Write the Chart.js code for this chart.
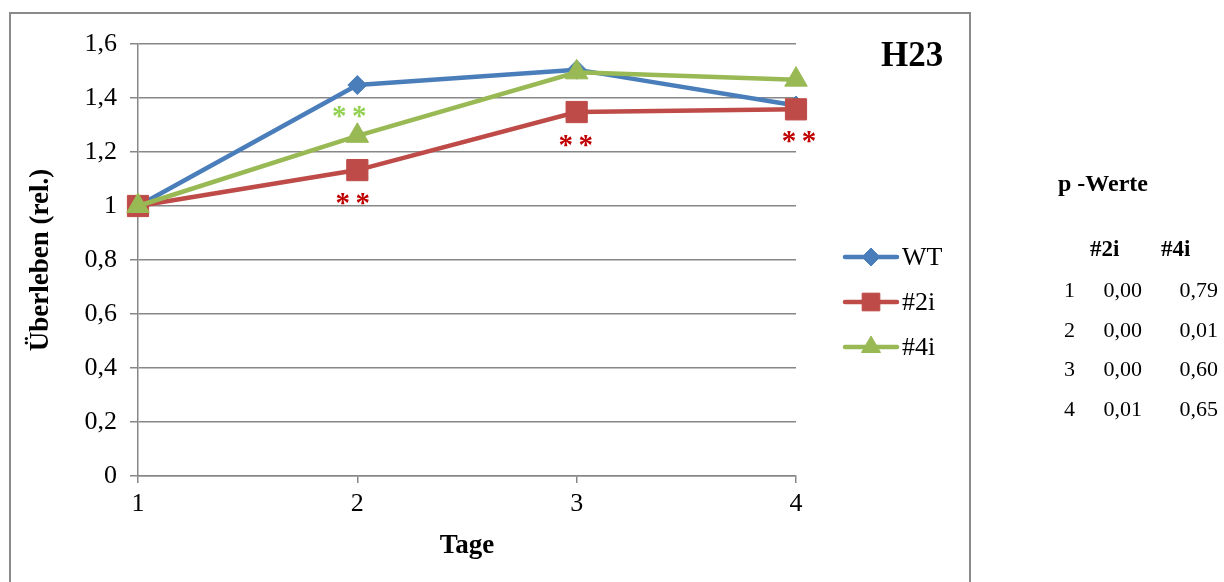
<!DOCTYPE html>
<html><head><meta charset="utf-8">
<script src="https://cdn.jsdelivr.net/npm/chart.js@4/dist/chart.umd.min.js"></script>
<style>
html,body{margin:0;padding:0;background:#fff;width:1224px;height:582px;overflow:hidden;font-family:"Liberation Serif","Times New Roman",serif;color:#000;}
#frame{position:absolute;left:9px;top:12px;width:958px;height:620px;border:2px solid #8a8a8a;border-bottom:none;box-sizing:content-box;}
#c{position:absolute;left:0;top:0;}
.txt{position:absolute;white-space:nowrap;line-height:1;}
</style></head>
<body>
<div id="frame"></div>
<canvas id="c" width="1224" height="582"></canvas>
<div id="h23" class="txt" style="left:881px;top:37px;font-size:35px;font-weight:bold;">H23</div>
<div id="ptable"></div>
<script>
// ---- data ----
const days = ['1', '2', '3', '4'];
const seriesNames = ['WT', '#2i', '#4i'];
const wtValues  = [1.000, 1.448, 1.505, 1.372];
const ko2iValues = [1.000, 1.133, 1.348, 1.358];
const ko4iValues = [1.000, 1.260, 1.495, 1.468];
const yTickLabels = ['0', '0,2', '0,4', '0,6', '0,8', '1', '1,2', '1,4', '1,6'];
// significance marks (**): series index, day index
const sigSeries = [2, 1, 1, 1];
const sigDay    = [1, 1, 2, 3];
// p-values table
const pTitle = 'p -Werte';
const pHeaders = ['#2i', '#4i'];
const pDays = ['1', '2', '3', '4'];
const p2i = ['0,00', '0,00', '0,00', '0,01'];
const p4i = ['0,79', '0,01', '0,60', '0,65'];

// ---- styles ----
const colors = ['#4A7EBB', '#BE4B48', '#98B954'];
const pointStyles = ['rectRot', 'rect', 'triangle'];
const pointRadii = [9.5, 15, 13];
const sigColors = ['#C00000', '#C00000', '#92D050'];
const sigDy = [-24, 29, 29, 28];
const sigDx = [-8, -4.5, -1, 3];
const GRID = '#878787';
const SERIF = '"Liberation Serif", "Times New Roman", serif';

const allSeries = [wtValues, ko2iValues, ko4iValues];

// ---- p-value table (HTML text) ----
(function () {
  const t = document.getElementById('ptable');
  function add(text, x, cy, size, bold, alignRight) {
    const d = document.createElement('div');
    d.className = 'txt';
    d.textContent = text;
    d.style.fontSize = size + 'px';
    d.style.top = (cy - size / 2) + 'px';
    if (bold) d.style.fontWeight = 'bold';
    if (alignRight) { d.style.right = (1224 - x) + 'px'; } else { d.style.left = x + 'px'; }
    t.appendChild(d);
  }
  add(pTitle, 1058, 183, 24, true, false);
  add(pHeaders[0], 1090, 248, 23, true, false);
  add(pHeaders[1], 1161, 248, 23, true, false);
  for (let i = 0; i < pDays.length; i++) {
    const cy = 290 + i * 39.5;
    add(pDays[i], 1064, cy, 22, false, false);
    add(p2i[i], 1142, cy, 22, false, true);
    add(p4i[i], 1218, cy, 22, false, true);
  }
})();

function drawMarker(ctx, style, x, y, r, color) {
  ctx.save();
  ctx.fillStyle = color;
  ctx.strokeStyle = color;
  ctx.lineWidth = 1;
  ctx.beginPath();
  if (style === 'rectRot') {
    ctx.moveTo(x, y - r); ctx.lineTo(x + r, y); ctx.lineTo(x, y + r); ctx.lineTo(x - r, y);
  } else if (style === 'rect') {
    const s = Math.SQRT1_2 * r;
    ctx.rect(x - s, y - s, 2 * s, 2 * s);
  } else {
    ctx.moveTo(x, y - r);
    ctx.lineTo(x + r * Math.sin(2 * Math.PI / 3), y + r / 2);
    ctx.lineTo(x - r * Math.sin(2 * Math.PI / 3), y + r / 2);
  }
  ctx.closePath();
  ctx.fill();
  ctx.stroke();
  ctx.restore();
}

const extrasPlugin = {
  id: 'extras',
  afterDatasetsDraw(chart) {
    const ctx = chart.ctx;
    const xs = chart.scales.x, ys = chart.scales.y;
    // significance asterisks
    ctx.save();
    ctx.font = 'bold 29px ' + SERIF;
    ctx.textAlign = 'center';
    ctx.textBaseline = 'alphabetic';
    const m = ctx.measureText('*');
    const mid = (m.actualBoundingBoxAscent - m.actualBoundingBoxDescent) / 2;
    for (let i = 0; i < sigSeries.length; i++) {
      const s = sigSeries[i], d = sigDay[i];
      const px = xs.getPixelForValue(d) + sigDx[i];
      const py = ys.getPixelForValue(allSeries[s][d]) + sigDy[i];
      ctx.fillStyle = sigColors[s];
      ctx.fillText('*', px - 10, py + mid);
      ctx.fillText('*', px + 10, py + mid);
    }
    ctx.restore();
  },
  afterDraw(chart) {
    const ctx = chart.ctx;
    // legend
    const legendRadii = [9, 12.5, 11];
    for (let i = 0; i < seriesNames.length; i++) {
      const y = 257 + i * 45;
      ctx.save();
      ctx.strokeStyle = colors[i];
      ctx.lineWidth = 4.5;
      ctx.lineCap = 'round';
      ctx.beginPath();
      ctx.moveTo(845, y); ctx.lineTo(897, y);
      ctx.stroke();
      ctx.restore();
      drawMarker(ctx, pointStyles[i], 871, y, legendRadii[i], colors[i]);
      ctx.save();
      ctx.fillStyle = '#000';
      ctx.font = '26px ' + SERIF;
      ctx.textAlign = 'left';
      ctx.textBaseline = 'middle';
      ctx.fillText(seriesNames[i], 902, y + 1);
      ctx.restore();
    }
  }
};

Chart.defaults.color = '#000';
Chart.defaults.font.family = SERIF;

new Chart(document.getElementById('c'), {
  type: 'line',
  data: {
    labels: days,
    datasets: allSeries.map((vals, i) => ({
      label: seriesNames[i],
      data: vals,
      borderColor: colors[i],
      backgroundColor: colors[i],
      borderWidth: 4.5,
      pointStyle: pointStyles[i],
      pointRadius: pointRadii[i],
      pointHoverRadius: pointRadii[i],
      pointBorderWidth: 1,
      pointBackgroundColor: colors[i],
      pointBorderColor: colors[i],
      tension: 0,
      fill: false,
      order: 3 - i
    }))
  },
  options: {
    responsive: false,
    animation: false,
    devicePixelRatio: 1,
    layout: { padding: { left: 0, top: 44, right: 428, bottom: 0 } },
    plugins: { legend: { display: false }, tooltip: { enabled: false } },
    scales: {
      x: {
        type: 'category',
        offset: false,
        grid: { drawOnChartArea: false, drawTicks: true, tickLength: 7, color: GRID, lineWidth: 1.5 },
        border: { display: true, color: GRID, width: 1.5 },
        ticks: { font: { size: 26, family: SERIF }, padding: 6, maxRotation: 0 },
        title: { display: true, text: 'Tage', font: { size: 27, weight: 'bold', family: SERIF }, padding: { top: 0, bottom: 20 } },
        afterFit(scale) { scale.height = 106; }
      },
      y: {
        min: 0, max: 1.6,
        ticks: {
          stepSize: 0.2,
          font: { size: 26, family: SERIF },
          padding: 13,
          callback: (v, idx) => yTickLabels[idx]
        },
        grid: { color: GRID, lineWidth: 1.5, tickLength: 8, drawTicks: true },
        border: { display: true, color: GRID, width: 1.5 },
        title: { display: true, text: 'Überleben (rel.)', font: { size: 27, weight: 'bold', family: SERIF }, padding: { top: 25, bottom: 0 } },
        afterFit(scale) { scale.width = 138; }
      }
    }
  },
  plugins: [extrasPlugin]
});
</script>
</body></html>
